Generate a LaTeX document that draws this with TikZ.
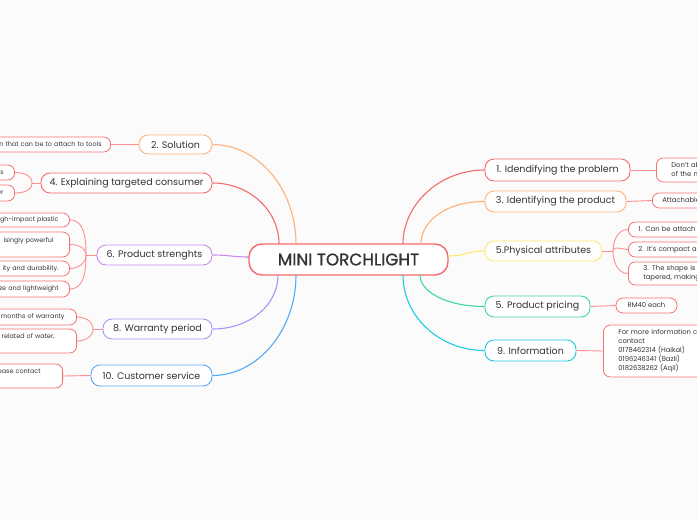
\documentclass[tikz,border=0pt]{standalone}
\usepackage{fontspec}
\setmainfont{Poppins}
\newfontfamily\centerfont{Poppins}[FakeBold=1.1]
\definecolor{bgc}{HTML}{FBFBFB}
\definecolor{txtc}{HTML}{333333}
\definecolor{redc}{HTML}{F46B6B}
\definecolor{orangec}{HTML}{FFB27A}
\definecolor{purplec}{HTML}{C88BEF}
\definecolor{lavc}{HTML}{A896F7}
\definecolor{bluec}{HTML}{55AAF5}
\definecolor{yellowc}{HTML}{FFE873}
\definecolor{tealc}{HTML}{3FD6A3}
\definecolor{cyanc}{HTML}{1ECBE1}
\definecolor{childc}{HTML}{F47272}
\definecolor{clinkc}{HTML}{FF8E8E}
\tikzset{
  mainbox/.style={draw, rounded corners=9, line width=0.9, fill=white, inner sep=0,
    minimum height=20, text=txtc, font=\fontsize{9.5}{11}\selectfont},
  childbox/.style={draw=childc, rounded corners=7, line width=0.8, fill=white,
    inner ysep=0, inner xsep=11, minimum height=15, text=txtc,
    font=\fontsize{6.8}{9}\selectfont},
  lchild/.style={childbox, anchor=east, text width=150, align=right,
    font=\fontsize{6.4}{9}\selectfont},
  rchild/.style={childbox, anchor=west, text width=150, align=left, inner xsep=10},
  mlink/.style={line width=1.1},
  clink/.style={draw=clinkc, line width=0.9},
}
\begin{document}
\begin{tikzpicture}[x=1pt,y=-1pt]
\fill[bgc] (0,0) rectangle (697,520);
\useasboundingbox (0,0) rectangle (697,520);

% central
\node[mainbox, draw=redc, line width=1.4, rounded corners=13, minimum width=199, minimum height=31,
  font=\centerfont\fontsize{16.8}{18}\selectfont] (c) at (348.5,259.5) {MINI TORCHLIGHT};

% left main nodes
\node[mainbox, draw=orangec, minimum width=73, minimum height=19] (sol) at (175.5,144.5) {2. Solution};
\node[mainbox, draw=redc, minimum width=171] (exp) at (126.5,183) {4. Explaining targeted consumer};
\node[mainbox, draw=purplec, minimum width=115] (str) at (154.5,255) {6. Product strenghts};
\node[mainbox, draw=lavc, minimum width=109] (war) at (157.5,329) {8. Warranty period};
\node[mainbox, draw=bluec, minimum width=121, minimum height=21] (cus) at (151.5,375.5) {10. Customer service};

% right main nodes
\node[mainbox, draw=redc, minimum width=145, minimum height=22] (p1) at (557.5,170) {1. Idendifying the problem};
\node[mainbox, draw=orangec, minimum width=141, minimum height=21] (p3) at (555.5,201.5) {3. Identifying the product};
\node[mainbox, draw=yellowc, minimum width=117] (phy) at (543.5,251) {5.Physical attributes};
\node[mainbox, draw=tealc, minimum width=105, minimum height=21] (pri) at (537.5,306.5) {5. Product pricing};
\node[mainbox, draw=cyanc, minimum width=91, minimum height=21] (inf) at (530.5,350.5) {9. Information};

% left children
\node[lchild, inner xsep=9] (s1) at (111,144.5) {n that can be to attach to tools};
\node[lchild] (e1) at (15,172.5) {s};
\node[lchild, minimum height=16] (e2) at (15,193) {er};
\node[lchild, minimum height=14] (g1) at (70,220) {gh-impact plastic};
\node[lchild, minimum height=25] (g2) at (70,244.5) {isingly powerful\rule{5pt}{0pt}\\[0pt]\mbox{}};
\node[lchild] (g3) at (70,268.5) {ity and durability.};
\node[lchild, minimum height=16] (g4) at (70,289) {ze and lightweight};
\node[lchild, minimum height=16, inner xsep=12] (w1) at (77,317) {months of warranty};
\node[lchild, minimum height=24] (w2) at (77,341) {related of water,\rule{11pt}{0pt}\\[0pt]\mbox{}};
\node[lchild, minimum height=24] (k1) at (63,376) {ease contact\rule{11pt}{0pt}\\[0pt]\mbox{}};

% right children
\node[rchild, minimum height=24, inner xsep=15] (q1) at (656,170) {Don't ab\\of the m};
\node[rchild] (q3) at (652,200.5) {Attachable};
\node[rchild] (h1) at (628,229.5) {1. Can be attach o};
\node[rchild] (h2) at (628,249.5) {2. It's compact an};
\node[rchild, minimum height=23, inner xsep=15] (h3) at (628,273.5) {3. The shape is u\\tapered, making};
\node[childbox, minimum width=61, inner xsep=0] (rm) at (646.5,305.5) {RM40 each};
\node[rchild, minimum height=52, inner xsep=15] (in1) at (603,351)
  {For more information c\\contact\\0178462314 (Haikal)\\0196246341 (Bazli)\\0182638262 (Aqil)};

% anchor coordinates on the central node
\coordinate (cA) at (296,244);
\coordinate (cB) at (279,244);
\coordinate (cC) at (249,257);
\coordinate (cD) at (278,275);
\coordinate (cE) at (296,275);
\coordinate (cF) at (403,244);
\coordinate (cG) at (421,244);
\coordinate (cH) at (448,256);
\coordinate (cI) at (420,275);
\coordinate (cJ) at (403,275);

% main branches
\draw[mlink, orangec] (sol.east) .. controls (258,144.5) and (296,189) .. (cA);
\draw[mlink, redc] (exp.east) .. controls (249,183) and (279,210) .. (cB);
\draw[mlink, purplec] (str.east) .. controls (230,255) and (232,257) .. (cC);
\draw[mlink, lavc] (war.east) .. controls (250,329) and (278,305) .. (cD);
\draw[mlink, bluec] (cus.east) .. controls (258,375.5) and (296,330) .. (cE);
\draw[mlink, redc] (p1.west) .. controls (440,170) and (403,204) .. (cF);
\draw[mlink, orangec] (p3.west) .. controls (446,201.5) and (421,221) .. (cG);
\draw[mlink, yellowc] (phy.west) .. controls (466,251) and (466,256) .. (cH);
\draw[mlink, tealc] (pri.west) .. controls (447,306.5) and (420,292) .. (cI);
\draw[mlink, cyanc] (inf.west) .. controls (440,350.5) and (403,317) .. (cJ);

% forks
\coordinate (f4) at (32,183);
\coordinate (f6) at (86,255);
\coordinate (f8) at (93,329);
\coordinate (f5) at (613,251);

% child connectors
\draw[clink] (s1.east) -- (sol.west);
\draw[clink] (exp.west) -- (f4);
\draw[clink] (e1.east) to[out=0,in=90] (f4);
\draw[clink] (e2.east) to[out=0,in=-90] (f4);
\draw[clink] (str.west) -- (f6);
\draw[clink] (g1.east) to[out=0,in=90] (f6);
\draw[clink] (g2.east) to[out=0,in=90] (f6);
\draw[clink] (g3.east) to[out=0,in=-90] (f6);
\draw[clink] (g4.east) to[out=0,in=-90] (f6);
\draw[clink] (war.west) -- (f8);
\draw[clink] (w1.east) to[out=0,in=90] (f8);
\draw[clink] (w2.east) to[out=0,in=-90] (f8);
\draw[clink] (k1.east) -- (cus.west);
\draw[clink] (p1.east) -- (q1.west);
\draw[clink] (p3.east) -- (q3.west);
\draw[clink] (phy.east) -- (f5);
\draw[clink] (h1.west) to[out=180,in=90] (f5);
\draw[clink] (h2.west) to[out=180,in=90] (f5);
\draw[clink] (h3.west) to[out=180,in=-90] (f5);
\draw[clink] (pri.east) -- (rm.west);
\draw[clink] (inf.east) -- (in1.west);
\end{tikzpicture}
\end{document}
